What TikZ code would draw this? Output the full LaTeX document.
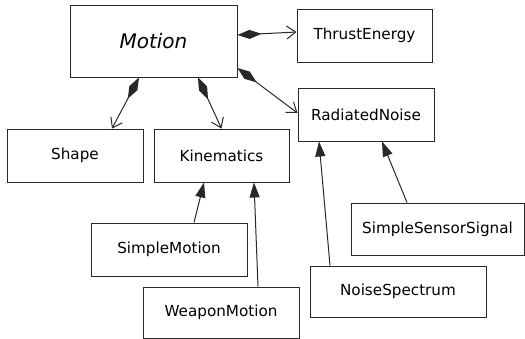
\documentclass[tikz,border=0pt]{standalone}
\usepackage{fontspec}
\setmainfont{DejaVu Sans}
\usetikzlibrary{arrows.meta}
\definecolor{class-line}{RGB}{40, 40, 40}

\tikzset{
  classbox/.style={draw=class-line, line width=1pt, inner sep=0pt,
    font=\fontsize{15.2}{18}\selectfont},
  owns/.style={line width=1pt, draw=class-line,
    {Diamond[length=24pt,width=9pt]}-{Straight Barb[length=9pt,width=13pt]}},
  isa/.style={line width=1pt, draw=class-line, -{Triangle[length=15pt,width=10pt]}}
}

\begin{document}
\begin{tikzpicture}[x=1pt, y=-1pt]
\useasboundingbox (0,0) rectangle (525,338);
\node[classbox, minimum width=167pt, minimum height=72pt,
  font=\fontsize{20}{24}\selectfont\itshape] (motion) at (153.5,41) {Motion};
\node[classbox, minimum width=135pt, minimum height=53pt] (thrust) at (364.5,35.5) {ThrustEnergy};
\node[classbox, minimum width=136pt, minimum height=53pt] (radiated) at (366,114.5) {RadiatedNoise};
\node[classbox, minimum width=136pt, minimum height=53pt] (shape) at (75,155.5) {Shape};
\node[classbox, minimum width=135pt, minimum height=53pt] (kinematics) at (221.5,155.5) {Kinematics};
\node[classbox, minimum width=156pt, minimum height=53pt] (simplemotion) at (169,249.5) {SimpleMotion};
\node[classbox, minimum width=156pt, minimum height=51pt] (weaponmotion) at (221,312.5) {WeaponMotion};
\node[classbox, minimum width=173pt, minimum height=52pt] (sensorsignal) at (437.5,229) {SimpleSensorSignal};
\node[classbox, minimum width=176pt, minimum height=51pt] (spectrum) at (398,291.5) {NoiseSpectrum};

% composition
\draw[owns] ([yshift=6pt]motion.east) -- ([yshift=3.5pt]thrust.west);
\draw[owns] ([yshift=-27pt]motion.east) -- ([yshift=1.5pt]radiated.west);
\draw[owns] ([xshift=-14.5pt]motion.south) -- ([xshift=37pt]shape.north);
\draw[owns] ([xshift=44.5pt]motion.south) -- (kinematics.north);

% inheritance
\draw[isa] ([xshift=25pt]simplemotion.north) -- ([xshift=-17.5pt]kinematics.south);
\draw[isa] ([xshift=37pt]weaponmotion.north) -- ([xshift=32.5pt]kinematics.south);
\draw[isa] ([xshift=-30.5pt]sensorsignal.north) -- ([xshift=16pt]radiated.south);
\draw[isa] ([xshift=-68pt]spectrum.north) -- ([xshift=-47pt]radiated.south);
\end{tikzpicture}
\end{document}
